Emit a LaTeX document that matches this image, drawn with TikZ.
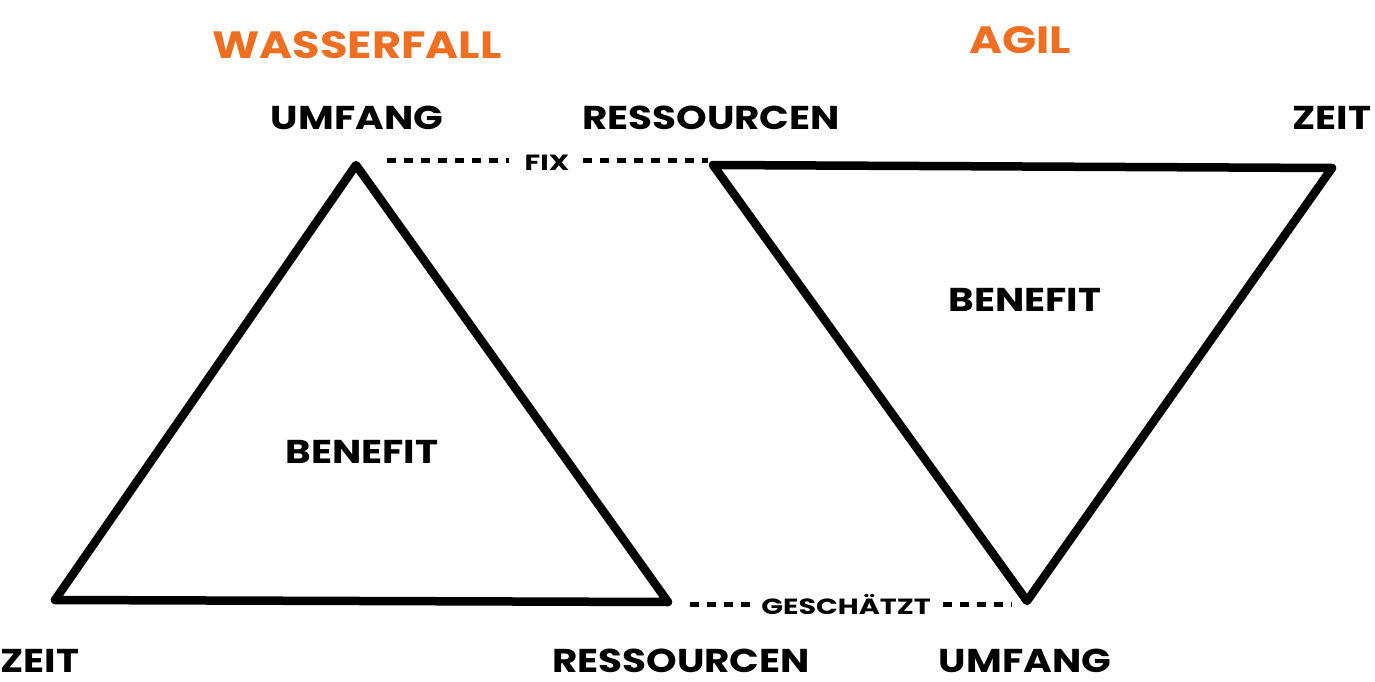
\documentclass[tikz,border=0pt]{standalone}
\usepackage{fontspec}
\setmainfont{Poppins}
\newfontfamily\widefont[FakeStretch=1.18]{Poppins}
\newfontfamily\widerfont[FakeStretch=1.3]{Poppins}
\definecolor{orng}{HTML}{EE6F22}
\begin{document}
\begin{tikzpicture}[x=1pt,y=-1pt,
  tri/.style={line width=8.5pt,line join=round,line cap=round,black},
  dots/.style={line width=5pt,dash pattern=on 9pt off 8pt,black},
  lbl/.style={font=\widefont\fontsize{33}{33}\selectfont\bfseries,inner sep=0pt,anchor=center},
  small/.style={font=\widerfont\fontsize{22}{22}\selectfont\bfseries,inner sep=0pt,anchor=center},
  ttl/.style={font=\widefont\fontsize{38}{38}\selectfont\bfseries,text=orng,inner sep=0pt,anchor=center}]
\useasboundingbox (0,0) rectangle (1375,682);
% vertices
\coordinate (La) at (356,165);
\coordinate (Lb) at (55,600);
\coordinate (Lc) at (668,602);
\coordinate (Ra) at (713,165);
\coordinate (Rb) at (1332,168);
\coordinate (Rc) at (1027,601);
\draw[tri] (La) -- (Lb) -- (Lc) -- cycle;
\draw[tri] (Ra) -- (Rb) -- (Rc) -- cycle;
% titles
\node[ttl] (t1) at (357,45) {WASSERFALL};
\node[ttl] (t2) at (1020,40) {AGIL};
% labels
\node[lbl] (l1) at (357,118) {UMFANG};
\node[lbl] (l2) at (711,118) {RESSOURCEN};
\node[lbl] (l3) at (1332,118) {ZEIT};
\node[lbl] (l4) at (40,661) {ZEIT};
\node[lbl] (l5) at (681,661) {RESSOURCEN};
\node[lbl] (l6) at (1025,661) {UMFANG};
\node[lbl] (b1) at (362,452) {BENEFIT};
\node[lbl] (b2) at (1025,300) {BENEFIT};
% dotted connectors
\coordinate (f1) at (387,160);
\coordinate (f2) at (708,160);
\node[small] (fix) at (547,163) {FIX};
\draw[dots] (f1) -- ([xshift=-16pt]fix.west |- f1);
\draw[dots] ([xshift=14pt]fix.east |- f2) -- (f2);
\coordinate (g1) at (690,604);
\coordinate (g2) at (1012,604);
\node[small] (ges) at (846,605) {GESCHÄTZT};
\draw[dots] (g1) -- ([xshift=-10pt]ges.west |- g1);
\draw[dots] ([xshift=12pt]ges.east |- g2) -- (g2);
\end{tikzpicture}
\end{document}
